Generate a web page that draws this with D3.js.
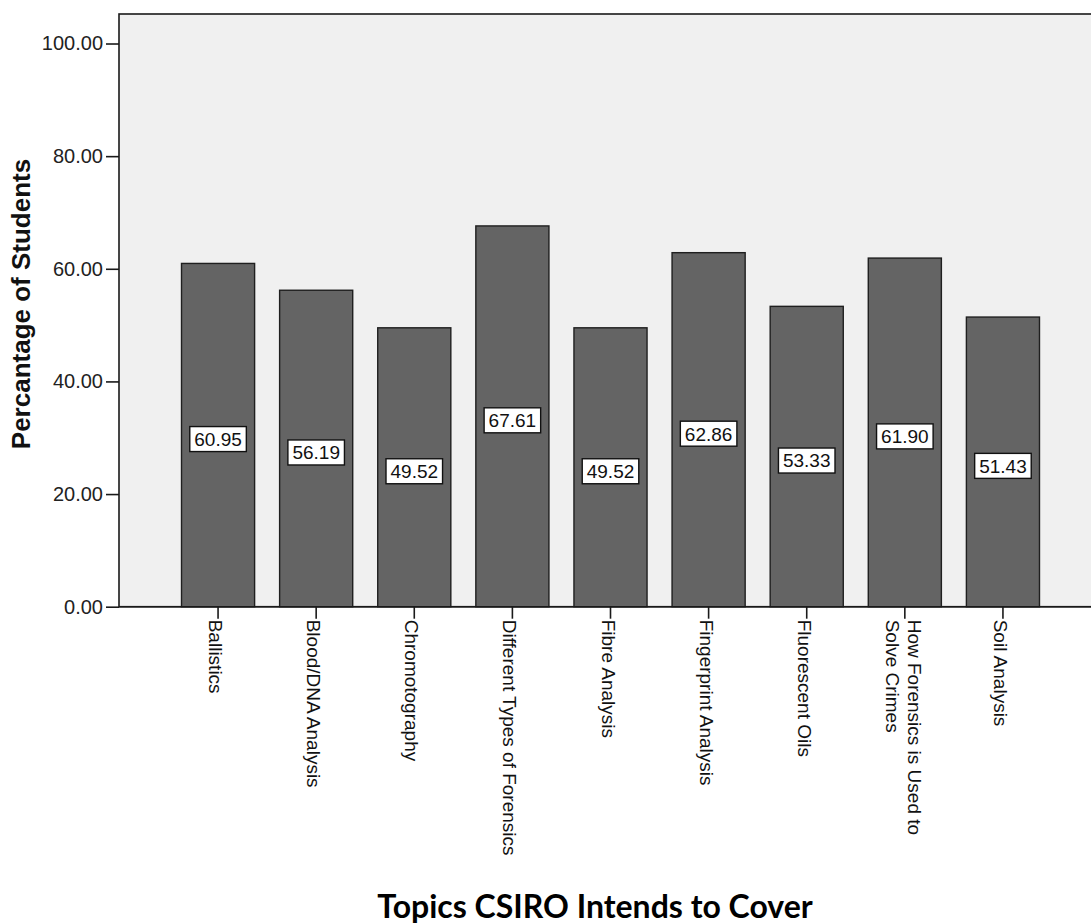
<!DOCTYPE html>
<html>
<head>
<meta charset="utf-8">
<script src="https://cdn.jsdelivr.net/npm/d3@7"></script>
<style>
  body { margin: 0; background: #ffffff; }
  svg { display: block; }
</style>
</head>
<body>
<svg id="chart" width="1091" height="924"></svg>
<script>
const categories = [
  ["Ballistics"],
  ["Blood/DNA Analysis"],
  ["Chromotography"],
  ["Different Types of Forensics"],
  ["Fibre Analysis"],
  ["Fingerprint Analysis"],
  ["Fluorescent Oils"],
  ["How Forensics is Used to", "Solve Crimes"],
  ["Soil Analysis"]
];
const values = [60.95, 56.19, 49.52, 67.61, 49.52, 62.86, 53.33, 61.90, 51.43];
const yTicks = [0, 20, 40, 60, 80, 100];
const yTitle = "Percantage of Students";
const xTitle = "Topics CSIRO Intends to Cover";

const svg = d3.select("#chart");
const pLeft = 119, pTop = 14, pBottom = 606.7, pRight = 1100;

const keys = categories.map(c => c.join(" "));
const x = d3.scaleBand().domain(keys).range([169, 1052]).padding(0);
const y = d3.scaleLinear().domain([0, 105.24]).range([pBottom, pTop]);

// plot background + frame
svg.append("rect").attr("x", pLeft).attr("y", pTop)
  .attr("width", pRight - pLeft).attr("height", pBottom - pTop)
  .attr("fill", "#f0f0f0").attr("stroke", "#1a1a1a").attr("stroke-width", 1.6);

const barW = x.bandwidth() * 0.745;
// bars
svg.append("g").selectAll("rect").data(values).join("rect")
  .attr("x", (d, i) => x(keys[i]) + x.bandwidth() / 2 - barW / 2)
  .attr("y", d => y(d))
  .attr("width", barW)
  .attr("height", d => y(0) - y(d))
  .attr("fill", "#646464")
  .attr("stroke", "#1f1f1f").attr("stroke-width", 1.4);

// baseline
svg.append("line").attr("x1", pLeft).attr("x2", pRight)
  .attr("y1", pBottom).attr("y2", pBottom).attr("stroke", "#1a1a1a").attr("stroke-width", 1.6);

// y axis
const yAxis = d3.axisLeft(y).tickValues(yTicks).tickFormat(d3.format(".2f")).tickSize(13).tickPadding(3);
const gy = svg.append("g").attr("transform", `translate(${pLeft},0)`).call(yAxis);
gy.select(".domain").remove();
gy.selectAll(".tick line").attr("stroke", "#1a1a1a").attr("stroke-width", 1.6);
gy.selectAll(".tick text").attr("font-family", "Liberation Sans, Arial, sans-serif")
  .attr("font-size", 20).attr("fill", "#222");

// x axis ticks
const gx = svg.append("g");
categories.forEach((c, i) => {
  const cx = x(keys[i]) + x.bandwidth() / 2;
  gx.append("line").attr("x1", cx).attr("x2", cx).attr("y1", pBottom).attr("y2", pBottom + 12)
    .attr("stroke", "#1a1a1a").attr("stroke-width", 1.6);
  const t = gx.append("text")
    .attr("transform", `translate(${cx},${pBottom + 13}) rotate(90)`)
    .attr("font-family", "Liberation Sans, Arial, sans-serif")
    .attr("font-size", 19).attr("fill", "#111").attr("text-anchor", "start");
  const lh = 22;
  const n = c.length;
  c.forEach((line, j) => {
    t.append("tspan").attr("x", 0)
      .attr("y", 9 - (n - 1) * lh / 2 + j * lh - (n > 1 ? 1 : 0))
      .text(line);
  });
});

// value labels
const lg = svg.append("g");
values.forEach((v, i) => {
  const cx = x(keys[i]) + x.bandwidth() / 2;
  const cy = y(v / 2) + 4;
  const g = lg.append("g").attr("transform", `translate(${cx},${cy})`);
  const txt = g.append("text").attr("text-anchor", "middle").attr("dy", "0.36em")
    .attr("font-family", "Liberation Sans, Arial, sans-serif").attr("font-size", 19)
    .attr("fill", "#111").text(d3.format(".2f")(v));
  const w = txt.node().getComputedTextLength() + 9;
  g.insert("rect", "text").attr("x", -w / 2).attr("y", -12.5).attr("width", w).attr("height", 25)
    .attr("fill", "#ffffff").attr("stroke", "#111").attr("stroke-width", 1.4);
});

// y title
svg.append("text")
  .attr("transform", `translate(30,304) rotate(-90)`)
  .attr("text-anchor", "middle")
  .attr("font-family", "Liberation Sans, Arial, sans-serif").attr("font-weight", "bold")
  .attr("font-size", 26).attr("fill", "#111").text(yTitle);

// x title
svg.append("text")
  .attr("x", 595).attr("y", 918)
  .attr("text-anchor", "middle")
  .attr("font-family", "Lato, 'Open Sans', sans-serif").attr("font-weight", "bold")
  .attr("font-size", 32).attr("fill", "#000").text(xTitle);
</script>
</body>
</html>
